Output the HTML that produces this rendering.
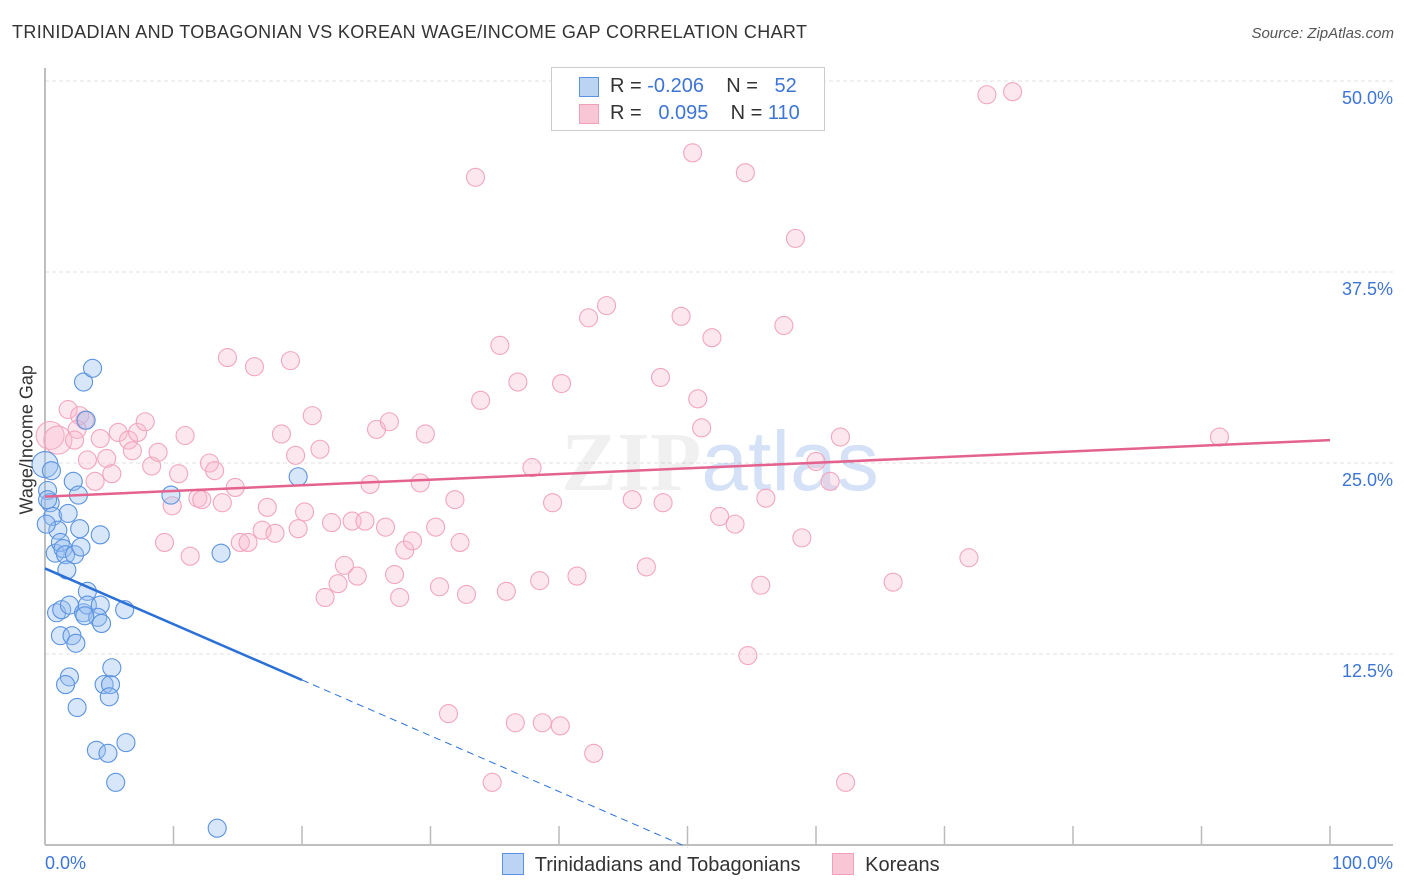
<!DOCTYPE html>
<html><head><meta charset="utf-8">
<style>
body{margin:0;background:#fff;font-family:"Liberation Sans",sans-serif;}
#wrap{position:relative;width:1406px;height:892px;overflow:hidden;}
.t{position:absolute;white-space:nowrap;}
</style></head>
<body>
<div id="wrap">
<div class="t" style="left:12px;top:22px;font-size:18px;letter-spacing:0.35px;color:#333;">TRINIDADIAN AND TOBAGONIAN VS KOREAN WAGE/INCOME GAP CORRELATION CHART</div>
<div class="t" style="right:12px;top:25px;font-size:15px;color:#555;font-style:italic;">Source: ZipAtlas.com</div>
<svg id="svg" width="1406" height="892" style="position:absolute;left:0;top:0"></svg>
</div>
<script>
const blueX=[0,0.2,0.4,0.6,0.8,1.0,1.2,1.4,1.6,1.7,1.8,2.2,2.3,2.6,2.7,2.8,3.0,3.7,3.2,4.3,0.9,1.3,1.9,1.2,2.1,2.4,3.0,3.3,3.3,4.3,4.1,4.4,6.2,1.9,1.6,2.5,4.6,5.1,5.2,5.0,4.0,4.9,6.3,5.5,13.4,9.8,13.7,19.7,0.5,0.2,3.1,0.1];
const blueY=[24.9,23.2,22.4,21.5,19.1,20.6,19.8,19.4,19.0,18.0,21.7,23.8,19.0,22.9,20.7,19.5,30.3,31.2,27.8,20.3,15.2,15.4,15.7,13.7,13.7,13.2,15.2,16.6,15.7,15.7,14.9,14.5,15.4,11.0,10.5,9.0,10.5,10.5,11.6,9.7,6.2,6.0,6.7,4.1,1.1,22.9,19.1,24.1,24.5,22.6,15.0,21.0];
const blueBig=[0];
const pinkX=[0.4,1.0,1.8,2.7,3.1,2.5,2.3,4.3,3.3,3.9,4.8,5.2,5.7,6.5,6.8,7.2,7.8,8.3,8.8,9.3,9.9,10.4,10.9,11.3,11.9,12.2,12.8,13.2,13.8,14.2,14.8,15.2,15.8,16.3,16.9,17.3,17.9,18.4,19.1,19.5,19.7,20.2,20.8,21.4,21.8,22.3,22.8,23.3,23.9,24.3,24.9,25.3,25.8,26.5,26.8,27.2,27.6,28.0,28.6,29.2,29.6,30.4,30.7,31.4,31.9,32.3,32.8,33.5,33.9,34.8,35.4,35.9,36.6,36.8,37.9,38.5,38.7,39.5,40.1,40.2,41.4,42.3,42.7,43.7,45.7,46.8,47.9,48.1,49.5,50.4,50.8,51.1,51.9,52.5,53.7,54.5,54.7,55.7,56.1,57.5,58.4,58.9,60.0,61.1,61.9,62.3,66.0,71.9,73.3,75.3,91.4];
const pinkY=[26.8,26.5,28.5,28.1,27.8,27.2,26.5,26.6,25.2,23.8,25.3,24.3,27.0,26.5,25.8,27.0,27.7,24.8,25.7,19.8,22.2,24.3,26.8,18.9,22.7,22.6,25.0,24.5,22.4,31.9,23.4,19.8,19.8,31.3,20.6,22.1,20.4,26.9,31.7,25.5,20.7,21.8,28.1,25.9,16.2,21.1,17.1,18.3,21.2,17.6,21.2,23.6,27.2,20.8,27.7,17.7,16.2,19.3,19.9,23.7,26.9,20.8,16.9,8.6,22.6,19.8,16.4,43.7,29.1,4.1,32.7,16.6,8.0,30.3,24.7,17.3,8.0,22.4,7.8,30.2,17.6,34.5,6.0,35.3,22.6,18.2,30.6,22.4,34.6,45.3,29.2,27.3,33.2,21.5,21.0,44.0,12.4,17.0,22.7,34.0,39.7,20.1,25.1,23.8,26.7,4.1,17.2,18.8,49.1,49.3,26.7];
const pinkBig=[0,1];
const yTicks=[12.5,25.0,37.5,50.0];
const yTickLabels=["12.5%","25.0%","37.5%","50.0%"];
const xTicks=[0,10,20,30,40,50,60,70,80,90,100];
const pinkLine=[22.8,26.5]; // y at x=0, x=100
const blueLine=[18.1,-0.365]; // intercept, slope
const blueSolidEnd=20, blueDashEnd=50;

const NS="http://www.w3.org/2000/svg";
const svg=document.getElementById('svg');
const X=v=>45+v*12.85, Y=v=>845-v*15.28;
function mk(tag,attrs,parent){const e=document.createElementNS(NS,tag);for(const k in attrs)e.setAttribute(k,attrs[k]);(parent||svg).appendChild(e);return e;}

yTicks.forEach((t,i)=>{
  const g=mk('line',{x1:45,x2:1393,y1:Y(t),y2:Y(t),stroke:'#e2e2e2','stroke-dasharray':'4,3'});
  
  
  const tx=mk('text',{x:1393,y:Y(t)+23,'text-anchor':'end','font-size':18,fill:'#3d75d6','font-family':'Liberation Sans'});
  tx.textContent=yTickLabels[i];
  
  
});
const ax=mk('line',{x1:45,x2:45,y1:68,y2:845,stroke:'#aaa','stroke-width':1.5});


const bx=mk('line',{x1:45,x2:1393,y1:845,y2:845,stroke:'#aaa','stroke-width':1.5});


xTicks.forEach(t=>{
  const l=mk('line',{x1:X(t),x2:X(t),y1:826,y2:845,stroke:'#bbb','stroke-width':1.5});
  
  
});
const wm=mk('text',{x:720,y:490,'text-anchor':'middle','font-size':84,fill:'#000','fill-opacity':0.06,'font-family':'Liberation Serif','font-weight':'bold'});
wm.innerHTML='ZIP<tspan fill="#3d75d6" fill-opacity="0.22" font-family="Liberation Sans" font-weight="normal">atlas</tspan>';



pinkX.forEach((v,i)=>{
  const c=mk('circle',{cx:X(v),cy:Y(pinkY[i]),r:pinkBig.includes(i)?14:9,fill:'rgba(248,185,205,0.35)',stroke:'#f2a6bd','stroke-width':1.1});
  
  
});
blueX.forEach((v,i)=>{
  const c=mk('circle',{cx:X(v),cy:Y(blueY[i]),r:blueBig.includes(i)?13:9,fill:'rgba(150,190,240,0.38)',stroke:'#5b93e0','stroke-width':1.1});
  
  
});
const pl=mk('line',{x1:X(0),y1:Y(pinkLine[0]),x2:X(100),y2:Y(pinkLine[1]),stroke:'#e4628e','stroke-width':2.5});


const bl=mk('line',{x1:X(0),y1:Y(blueLine[0]),x2:X(blueSolidEnd),y2:Y(blueLine[0]+blueLine[1]*blueSolidEnd),stroke:'#2a70d6','stroke-width':2.5});


const bd=mk('line',{x1:X(blueSolidEnd),y1:Y(blueLine[0]+blueLine[1]*blueSolidEnd),x2:X(blueDashEnd),y2:Y(blueLine[0]+blueLine[1]*blueDashEnd),stroke:'#2a70d6','stroke-width':1,'stroke-dasharray':'7,5'});


</script>
<div class="t" style="left:-33px;top:444px;font-size:18px;color:#333;transform:rotate(-90deg);transform-origin:center;width:120px;text-align:center;">Wage/Income Gap</div>
<div class="t" style="left:45px;top:853px;font-size:18px;color:#3d75d6;">0.0%</div>
<div class="t" style="right:13px;top:853px;font-size:18px;color:#3d75d6;">100.0%</div>
<div style="position:absolute;left:551px;top:67px;width:272px;height:62px;border:1px solid #ccc;background:#fff;font-size:20px;color:#333;">
  <div style="position:absolute;left:27px;top:9px;width:18px;height:18px;background:#bcd4f4;border:1px solid #5b93e0;"></div>
  <div class="t" style="left:58px;top:7px;">R = <span style="color:#3d75d6">-0.206</span>&nbsp;&nbsp;&nbsp;&nbsp;N = &nbsp;&nbsp;<span style="color:#3d75d6">52</span></div>
  <div style="position:absolute;left:27px;top:36px;width:18px;height:18px;background:#f9c6d5;border:1px solid #f0a0b8;"></div>
  <div class="t" style="left:58px;top:34px;">R = &nbsp;&nbsp;<span style="color:#3d75d6">0.095</span>&nbsp;&nbsp;&nbsp;&nbsp;N = <span style="color:#3d75d6">110</span></div>
</div>
<div style="position:absolute;left:502px;top:853px;font-size:20px;color:#333;">
  <span style="display:inline-block;width:20px;height:20px;background:#bcd4f4;border:1px solid #5b93e0;vertical-align:-4px;"></span>&nbsp; Trinidadians and Tobagonians</div>
<div style="position:absolute;left:832px;top:853px;font-size:20px;color:#333;">
  <span style="display:inline-block;width:20px;height:20px;background:#f9c6d5;border:1px solid #f0a0b8;vertical-align:-4px;"></span>&nbsp; Koreans</div>
</body></html>
